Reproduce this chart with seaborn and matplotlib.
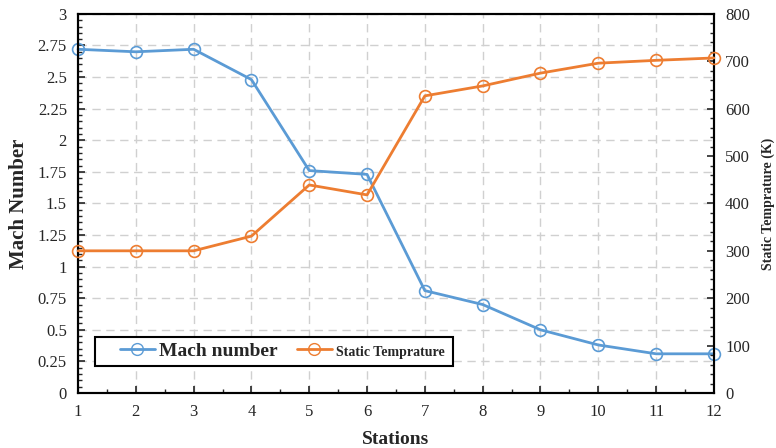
import matplotlib
matplotlib.use("Agg")
import matplotlib.pyplot as plt
from matplotlib.ticker import MultipleLocator
from matplotlib.lines import Line2D
from matplotlib.patches import Rectangle
import pandas as pd
import seaborn as sns

# values
stations = [1, 2, 3, 4, 5, 6, 7, 8, 9, 10, 11, 12]
mach_number = [2.72, 2.70, 2.72, 2.48, 1.76, 1.73, 0.81, 0.70, 0.50, 0.38, 0.31, 0.31]
static_temp = [300, 300, 300, 331, 439, 418, 627, 648, 675, 696, 702, 707]

df = pd.DataFrame({"station": stations, "mach": mach_number, "temp": static_temp})

blue = "#5B9BD5"
orange = "#ED7D31"

sns.set_style("white")
plt.rcParams["font.family"] = ["Liberation Serif", "DejaVu Serif"]

fig = plt.figure(figsize=(7.76, 4.48), dpi=100)
ax = fig.add_axes([0.1005, 0.1228, 0.8195, 0.8462])
ax2 = ax.twinx()

sns.lineplot(data=df, x="station", y="mach", ax=ax, color=blue, linewidth=2,
             marker="o", markersize=8.5, markerfacecolor="none",
             markeredgecolor=blue, markeredgewidth=1.2, zorder=3, clip_on=False)
sns.lineplot(data=df, x="station", y="temp", ax=ax2, color=orange, linewidth=2,
             marker="o", markersize=8.5, markerfacecolor="none",
             markeredgecolor=orange, markeredgewidth=1.2, zorder=3, clip_on=False)

ax.set_xlim(1, 12)
ax.set_ylim(0, 3)
ax2.set_ylim(0, 800)
ax.xaxis.set_major_locator(MultipleLocator(1))
ax.xaxis.set_minor_locator(MultipleLocator(0.5))
ax.yaxis.set_major_locator(MultipleLocator(0.25))
ax.yaxis.set_minor_locator(MultipleLocator(0.05))
ax2.yaxis.set_major_locator(MultipleLocator(100))
ax2.yaxis.set_minor_locator(MultipleLocator(20))

ax.yaxis.set_major_formatter(plt.FuncFormatter(lambda v, p: f"{v:g}"))

ax.grid(True, which="major", color="#d0d0d0", linestyle=(0, (6, 4)), linewidth=1)
ax.set_axisbelow(True)

for a in (ax, ax2):
    for s in a.spines.values():
        s.set_color("black")
        s.set_linewidth(1.5)
ax.tick_params(axis="both", which="major", direction="in", length=5, width=1.2,
               labelsize=12, pad=8, left=True, bottom=True)
ax.tick_params(axis="both", which="minor", direction="in", length=3, width=1,
               left=True, bottom=True)
ax2.tick_params(axis="y", which="major", direction="in", length=5, width=1.2,
                labelsize=12, pad=8, right=True)
ax2.tick_params(axis="y", which="minor", direction="in", length=3, width=1, right=True)

ax.set_xlabel("Stations", fontsize=14, fontweight="bold", labelpad=8)
ax.set_ylabel("Mach Number", fontsize=15, fontweight="bold", labelpad=6)
ax2.set_ylabel("Static Temprature (K)", fontsize=10, fontweight="bold", labelpad=8)

# legend box drawn separately (wide side padding, thin vertical padding)
ax2.add_patch(Rectangle((0.0267, 0.0712), 0.5633, 0.0766, transform=ax2.transAxes,
                        facecolor="white", edgecolor="black", linewidth=1.5, zorder=4))
handles = [
    Line2D([], [], color=blue, linewidth=2, marker="o", markersize=8.5,
           markerfacecolor="none", markeredgecolor=blue),
    Line2D([], [], color=orange, linewidth=2, marker="o", markersize=8.5,
           markerfacecolor="none", markeredgecolor=orange),
]
leg = ax2.legend(handles, ["Mach number", "Static Temprature"], ncol=2,
                 loc="center left", bbox_to_anchor=(0.066, 0.1095), frameon=False,
                 handlelength=1.8, columnspacing=1.0, borderpad=0, borderaxespad=0,
                 handletextpad=0.2, prop={"weight": "bold", "size": 14})
leg.set_zorder(5)
leg.get_texts()[1].set_fontsize(10)

fig.savefig("out.png", dpi=100)
